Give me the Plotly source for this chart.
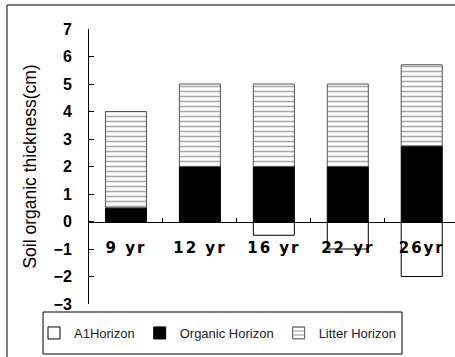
import plotly.graph_objects as go

# Stand age classes and horizon thicknesses (cm)
ages = ["9 yr", "12 yr", "16 yr", "22 yr", "26yr"]
a1_horizon = [0, 0, -0.5, -1.0, -2.0]
organic_horizon = [0.5, 2.0, 2.0, 2.0, 2.75]
litter_horizon = [3.5, 3.0, 3.0, 3.0, 2.95]

W, H = 455, 357
L, R, T, B = 89, 0, 29, 53
pw = W - L - R
ph = H - T - B


def px_x(v):
    return (v - L) / pw


def px_y(v):
    return (H - B - v) / ph


# spaced-out category labels
age_labels = ['<span style="letter-spacing:2px">%s</span>' % a for a in ages]

fig = go.Figure()
fig.add_trace(go.Bar(
    x=ages, y=a1_horizon, name="A1Horizon",
    marker=dict(color="white", line=dict(color="black", width=1)),
))
fig.add_trace(go.Bar(
    x=ages, y=organic_horizon, name="Organic Horizon",
    marker=dict(color="black", line=dict(color="black", width=1)),
))
fig.add_trace(go.Bar(
    x=ages, y=litter_horizon, name="Litter Horizon",
    marker=dict(color="white", line=dict(color="#555555", width=1),
                pattern=dict(shape="-", size=5, solidity=0.32,
                             fgcolor="#555555", bgcolor="white")),
))

fig.update_layout(
    width=W, height=H,
    margin=dict(l=L, r=R, t=T, b=B, pad=0),
    barmode="relative",
    bargap=0.445,
    paper_bgcolor="white",
    plot_bgcolor="white",
    font=dict(family="Liberation Sans, Arial", color="black"),
    showlegend=True,
    legend=dict(
        orientation="h",
        x=px_x(34), xanchor="left",
        y=px_y(333), yanchor="middle",
        font=dict(size=13, color="#222222"),
        bgcolor="rgba(0,0,0,0)",
        borderwidth=0,
        itemwidth=30,
        traceorder="normal",
    ),
    xaxis=dict(
        type="category",
        range=[-0.5, 4.45],
        anchor="free",
        position=0.3,
        showline=True, linecolor="black", linewidth=1,
        ticks="inside", ticklen=4, tickcolor="black",
        tickson="boundaries",
        tickmode="array", tickvals=ages, ticktext=age_labels,
        showgrid=False, zeroline=False,
        tickfont=dict(family="DejaVu Sans", size=15, color="black", weight="bold"),
        ticklabelstandoff=12,
    ),
    yaxis=dict(
        range=[-3, 7],
        dtick=1,
        showline=True, linecolor="black", linewidth=1,
        ticks="inside", ticklen=5, tickcolor="black",
        showgrid=False, zeroline=False,
        tickfont=dict(family="Liberation Sans, Arial", size=16, color="black", weight="bold"),
        ticklabelstandoff=13,
        title=dict(text="Soil organic thickness(cm)",
                   font=dict(family="Liberation Sans, Arial", size=17.5, color="black"),
                   standoff=12),
    ),
    shapes=[
        # outer frame
        dict(type="rect", xref="paper", yref="paper",
             x0=px_x(7), x1=px_x(470), y0=px_y(370), y1=px_y(5),
             line=dict(color="black", width=1), fillcolor="rgba(0,0,0,0)", layer="below"),
        # legend frame
        dict(type="rect", xref="paper", yref="paper",
             x0=px_x(43), x1=px_x(402), y0=px_y(354), y1=px_y(312),
             line=dict(color="black", width=1), fillcolor="rgba(0,0,0,0)"),
    ],
)

fig.write_html("out.html")
